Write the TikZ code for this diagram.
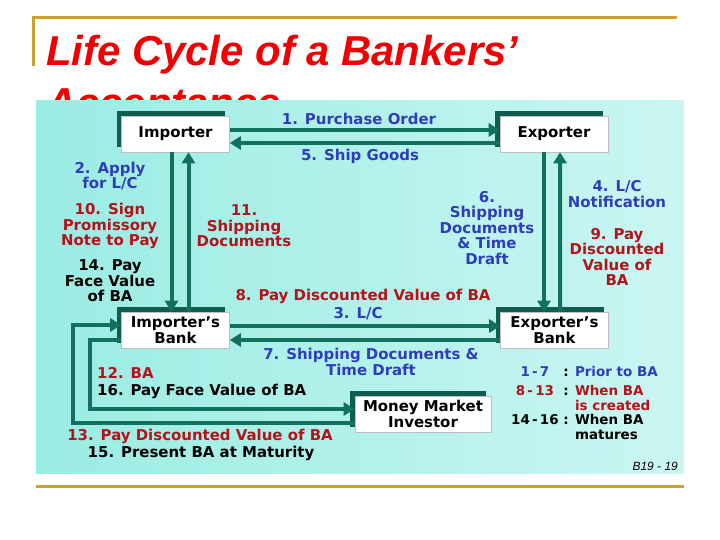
\documentclass[tikz,border=0pt]{standalone}
\usepackage{fontspec}
\setmainfont{DejaVu Sans}
\newfontfamily\titlefont{Liberation Sans}
\usetikzlibrary{arrows.meta,calc,shadows}
\definecolor{flowteal}{HTML}{12705F}
\definecolor{shadowteal}{HTML}{0D5E50}
\definecolor{bgleft}{HTML}{9AECE3}
\definecolor{bgright}{HTML}{CBF6F2}
\definecolor{lblue}{HTML}{2F3DBA}
\definecolor{lred}{HTML}{B3141B}
\definecolor{titlered}{HTML}{F00000}
\definecolor{slidegold}{HTML}{C9A02A}

\begin{document}
\begin{tikzpicture}
  [x=1bp,y=-1bp,>={Triangle[length=11bp,width=13bp]},
  box node/.style={rectangle,fill=white,draw=gray!50,line width=0.6bp,
    minimum width=108bp,minimum height=36bp,inner sep=0pt,align=center,
    font=\fontsize{15}{16}\selectfont\bfseries,
    drop shadow={shadow xshift=-5bp,shadow yshift=5bp,opacity=1,fill=shadowteal}},
  flow/.style={->,draw=flowteal,line width=4bp},
  lbl/.style={inner sep=0pt,align=center,font=\fontsize{15}{15.5}\selectfont\bfseries}]
  \useasboundingbox (0,0) rectangle (720,540);
  \fill[white] (0,0) rectangle (720,540);

  % title, partly under the picture
  \node[anchor=base west,inner sep=0pt,text=titlered,
    font=\titlefont\bfseries\itshape\fontsize{42}{48}\selectfont] (title) at (46,66) {Life Cycle of a Bankers’};
  \node[anchor=base west,inner sep=0pt,text=titlered,
    font=\titlefont\bfseries\itshape\fontsize{42}{48}\selectfont] (title2) at (46,118) {Acceptance};
  \draw[slidegold,line width=3bp] (33,66) -- (33,18) -- (677,18);
  \draw[slidegold,line width=3bp] (36,486) -- (684,486);
  \fill[left color=bgleft,right color=bgright] (36,101) rectangle (684,473);

  \node[box node] (imp) at (175.5,134) {Importer};
  \node[box node] (exp) at (554,134) {Exporter};
  \node[box node] (impbank) at (175.5,330) {Importer’s\\Bank};
  \node[box node] (expbank) at (554.5,330) {Exporter’s\\Bank};
  \node[box node,minimum width=136bp] (mmi) at (423,414) {Money Market\\Investor};
  \coordinate (inner) at (90,409);
  \coordinate (outer) at (73,325);

  \draw[flow] ($(imp.east)+(0,-4)$) -- ($(exp.west)+(0,-4)$);
  \draw[flow] ($(exp.west)+(0,9)$) -- ($(imp.east)+(0,9)$);
  \draw[flow] ($(imp.south)+(-4,0)$) -- ($(impbank.north)+(-4,0)$);
  \draw[flow] ($(impbank.north)+(13,0)$) -- ($(imp.south)+(13,0)$);
  \draw[flow] ($(exp.south)+(-10,0)$) -- ($(expbank.north)+(-10.5,0)$);
  \draw[flow] ($(expbank.north)+(5.5,0)$) -- ($(exp.south)+(6,0)$);
  \draw[flow] ($(impbank.east)+(0,-4)$) -- ($(expbank.west)+(0,-4)$);
  \draw[flow] ($(expbank.west)+(0,10)$) -- ($(impbank.east)+(0,10)$);
  \draw[flow] ($(impbank.west)+(0,10)$) -| (inner) -- (inner -| mmi.west);
  \draw[flow] ($(mmi.west)+(0,9)$) -| (outer) -- (outer -| impbank.west);

  \node[lbl,text=lblue] (l1) at (359,119) {1. Purchase Order};
  \node[lbl,text=lblue] (l5) at (360,156) {5. Ship Goods};
  \node[lbl,text=lblue] (l2) at (110,176) {2. Apply\\for L/C};
  \node[lbl,text=lred] (l10) at (110,226) {10. Sign\\Promissory\\Note to Pay};
  \node[lbl] (l14) at (110,281) {14. Pay\\Face Value\\of BA};
  \node[lbl,text=lred] (l11) at (244,226) {11.\\Shipping\\Documents};
  \node[lbl,text=lblue] (l6) at (487,228) {6.\\Shipping\\Documents\\\& Time\\Draft};
  \node[lbl,text=lblue] (l4) at (617,194) {4. L/C\\Notification};
  \node[lbl,text=lred] (l9) at (617,257) {9. Pay\\Discounted\\Value of\\BA};
  \node[lbl,text=lred] (l8) at (363,296) {8. Pay Discounted Value of BA};
  \node[lbl,text=lblue] (l3) at (358,314) {3. L/C};
  \node[lbl,text=lblue] (l7) at (371,362) {7. Shipping Documents \&\\Time Draft};
  \node[lbl,text=lred,anchor=west] (l12) at (97,373) {12. BA};
  \node[lbl,anchor=west] (l16) at (97,391) {16. Pay Face Value of BA};
  \node[lbl,text=lred] (l13) at (200,436) {13. Pay Discounted Value of BA};
  \node[lbl] (l15) at (201,453) {15. Present BA at Maturity};

  \node[anchor=north west,inner sep=0pt,font=\fontsize{13.5}{14.5}\selectfont\bfseries] (legend) at (511,366) {%
    \begin{tabular}{@{}c@{ : }l@{}}
      \textcolor{lblue}{1\,-\,7} & \textcolor{lblue}{Prior to BA}\\[4.5bp]
      \textcolor{lred}{8\,-\,13} & \textcolor{lred}{\begin{tabular}[t]{@{}l@{}}When BA\\is created\end{tabular}}\\[4.5bp]
      14\,-\,16 & \begin{tabular}[t]{@{}l@{}}When BA\\matures\end{tabular}
    \end{tabular}};
  \node[anchor=base east,inner sep=0pt,font=\titlefont\itshape\fontsize{12}{14}\selectfont] (slideno) at (678,470) {B19 - 19};
\end{tikzpicture}
\end{document}
